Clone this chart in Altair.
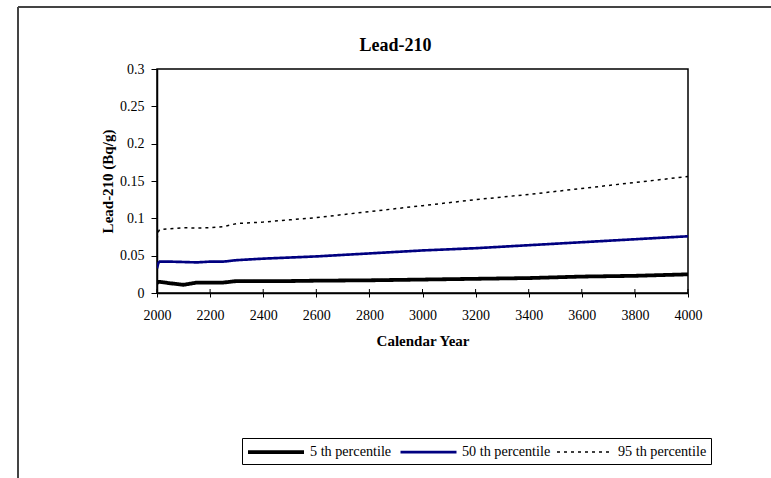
import altair as alt
import pandas as pd

# Lead-210 concentration percentiles over calendar years
years = [2000, 2005, 2010, 2050, 2100, 2150, 2200, 2250, 2300, 2400, 2500,
         2600, 2800, 3000, 3200, 3400, 3600, 3800, 4000]
p5 = [0.013, 0.015, 0.015, 0.013, 0.011, 0.014, 0.014, 0.014, 0.016, 0.016, 0.016,
      0.0165, 0.017, 0.018, 0.019, 0.020, 0.022, 0.023, 0.025]
p50 = [0.033, 0.040, 0.042, 0.042, 0.0415, 0.041, 0.042, 0.042, 0.044, 0.046, 0.0475,
       0.049, 0.053, 0.057, 0.060, 0.064, 0.068, 0.072, 0.076]
p95 = [0.072, 0.082, 0.085, 0.086, 0.0875, 0.087, 0.0875, 0.089, 0.093, 0.095, 0.098,
       0.101, 0.109, 0.117, 0.125, 0.132, 0.140, 0.148, 0.156]

series_names = ["5 th percentile", "50 th percentile", "95 th percentile"]
series_colors = ["#000000", "#000080", "#000000"]
series_widths = [3.8, 1.5, 2]
series_dashes = [[1, 0], [1, 0], [3, 4]]

x_ticks = [2000, 2200, 2400, 2600, 2800, 3000, 3200, 3400, 3600, 3800, 4000]
y_ticks = [0, 0.05, 0.1, 0.15, 0.2, 0.25, 0.3]

rows = []
for name, vals in zip(series_names, [p5, p50, p95]):
    for yr, v in zip(years, vals):
        rows.append({"year": yr, "value": v, "series": name})
df = pd.DataFrame(rows)

FONT = "Liberation Serif"
W, H = 531, 224

# long line-sample symbols: path runs from -1 to 6 units, size 256 -> 8 px per unit
legend_cfg = alt.Legend(
    orient="none", legendX=85, legendY=369, direction="horizontal", title=None,
    padding=4, strokeColor="#000000", fillColor="#ffffff",
    labelFont=FONT, labelFontSize=14.2, labelColor="#000000", labelOffset=44,
    symbolType="M-1,0H6", symbolSize=256, columnPadding=3, labelLimit=300,
)

axis_common = dict(
    grid=False, labelFont=FONT, labelFontSize=14, labelColor="#000000",
    titleFont=FONT, titleFontSize=15, titleFontWeight="bold", titleColor="#000000",
    domainColor="#000000", domainWidth=1.5, tickColor="#000000", tickWidth=1,
)

lines = alt.Chart(df).mark_line(clip=True).encode(
    x=alt.X("year:Q", scale=alt.Scale(domain=[2000, 4000], nice=False),
            axis=alt.Axis(values=x_ticks, format="d", title="Calendar Year",
                          tickSize=4, labelPadding=11, titlePadding=11,
                          labelFlush=False, **axis_common)),
    y=alt.Y("value:Q", scale=alt.Scale(domain=[0, 0.3], nice=False),
            axis=alt.Axis(values=y_ticks, format="~g", title="Lead-210 (Bq/g)",
                          tickSize=6, labelPadding=7, titlePadding=4,
                          labelFlush=False, **axis_common)),
    color=alt.Color("series:N", sort=series_names,
                    scale=alt.Scale(domain=series_names, range=series_colors),
                    legend=legend_cfg),
    strokeWidth=alt.StrokeWidth("series:N", sort=series_names,
                                scale=alt.Scale(domain=series_names, range=series_widths),
                                legend=legend_cfg),
    strokeDash=alt.StrokeDash("series:N", sort=series_names,
                              scale=alt.Scale(domain=series_names, range=series_dashes),
                              legend=legend_cfg),
)

# inner half of the x-axis tick marks
inner_ticks = alt.Chart(pd.DataFrame({"year": x_ticks})).mark_rule(
    color="#000000", strokeWidth=1
).encode(x="year:Q", y=alt.value(H - 4), y2=alt.value(H))

# chart-area frame (left and top edges)
frame_df = alt.Data(values=[{"k": 1}])
frame_left = alt.Chart(frame_df).mark_rule(color="#444444", strokeWidth=2).encode(
    x=alt.value(-139), y=alt.value(-62), y2=alt.value(420))
frame_top = alt.Chart(frame_df).mark_rule(color="#444444", strokeWidth=2).encode(
    x=alt.value(-139), x2=alt.value(620), y=alt.value(-62))

chart = alt.layer(lines, inner_ticks, frame_left, frame_top).properties(
    width=W, height=H,
    background="#ffffff",
    title=alt.TitleParams("Lead-210", font=FONT, fontSize=18, fontWeight="bold",
                          color="#000000", anchor="middle", dx=-27, dy=49, offset=0),
    autosize=alt.AutoSizeParams(type="none"),
    padding={"left": 157, "top": 69, "right": 83, "bottom": 185},
).configure_view(
    stroke="#000000", strokeWidth=1.5
)

chart.save("out.html", embed_options={"renderer": "svg", "actions": False})
